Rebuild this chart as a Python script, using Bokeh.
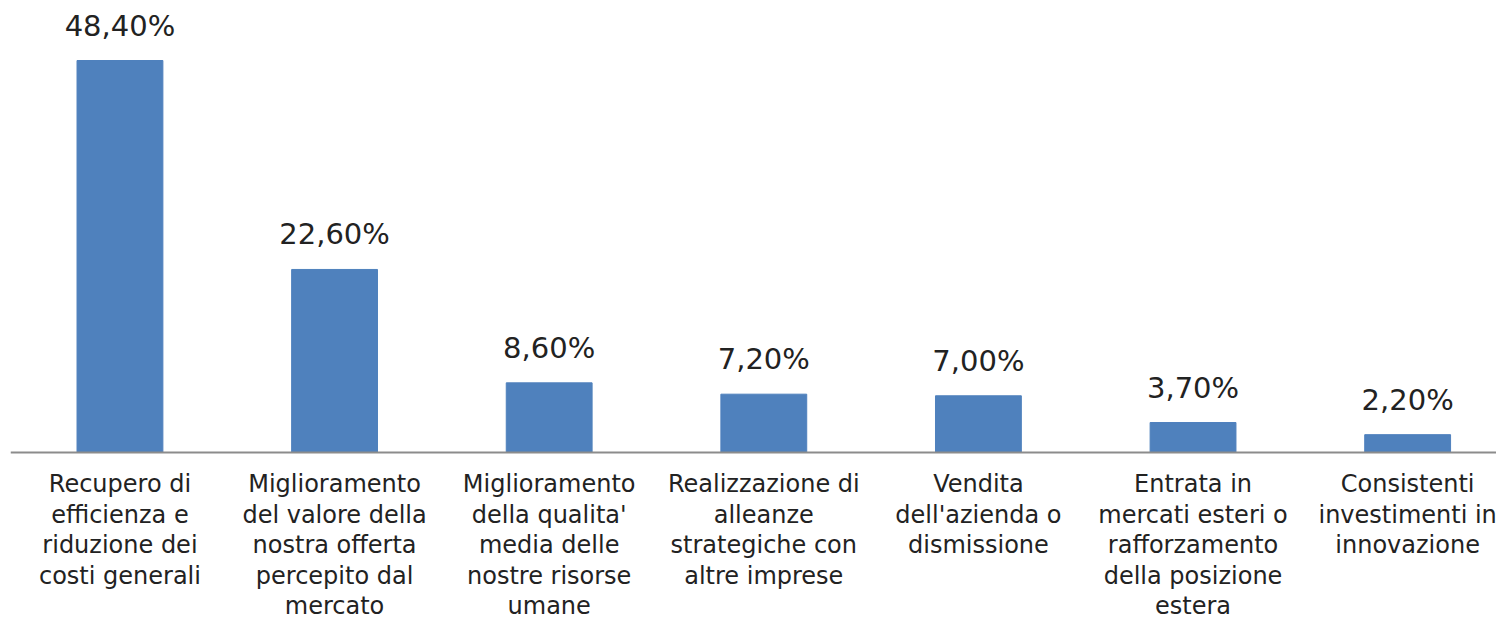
from bokeh.plotting import figure
from bokeh.models import Range1d, ColumnDataSource, Span
from bokeh.core.properties import value
from bokeh.embed import file_html
from bokeh.resources import INLINE

categories = [
    "Recupero di\nefficienza e\nriduzione dei\ncosti generali",
    "Miglioramento\ndel valore della\nnostra offerta\npercepito dal\nmercato",
    "Miglioramento\ndella qualita'\nmedia delle\nnostre risorse\numane",
    "Realizzazione di\nalleanze\nstrategiche con\naltre imprese",
    "Vendita\ndell'azienda o\ndismissione",
    "Entrata in\nmercati esteri o\nrafforzamento\ndella posizione\nestera",
    "Consistenti\ninvestimenti in\ninnovazione",
]
values = [48.4, 22.6, 8.6, 7.2, 7.0, 3.7, 2.2]
labels = ["48,40%", "22,60%", "8,60%", "7,20%", "7,00%", "3,70%", "2,20%"]

idx = list(range(len(categories)))
src = ColumnDataSource(dict(x=idx, top=values, lab=labels, cat=categories,
                            base=[0] * len(idx)))

p = figure(width=1496, height=621, output_backend="svg", toolbar_location=None,
           x_range=Range1d(-0.51, 6.414), y_range=Range1d(-20.87, 55.81),
           min_border_left=10, min_border_right=0, min_border_top=0, min_border_bottom=0)

p.vbar(x="x", top="top", width=0.4, bottom=0, source=src,
       fill_color="#4F81BD", line_color="#4F81BD")

p.add_layout(Span(location=0, dimension="width", line_color="#8C8C8C", line_width=2))

p.text(x="x", y="top", text="lab", source=src, text_align="center",
       text_baseline="alphabetic", y_offset=-35,
       text_font=value("DejaVu Sans"), text_font_size="29px", text_color="#222222")

p.text(x="x", y="base", text="cat", source=src, text_align="center",
       text_baseline="top", y_offset=18, text_line_height=1.086,
       text_font=value("DejaVu Sans"), text_font_size="24px", text_color="#222222")

p.xaxis.visible = False
p.yaxis.visible = False
p.xgrid.visible = False
p.ygrid.visible = False
p.outline_line_color = None

open("out.html", "w").write(file_html(p, INLINE))
